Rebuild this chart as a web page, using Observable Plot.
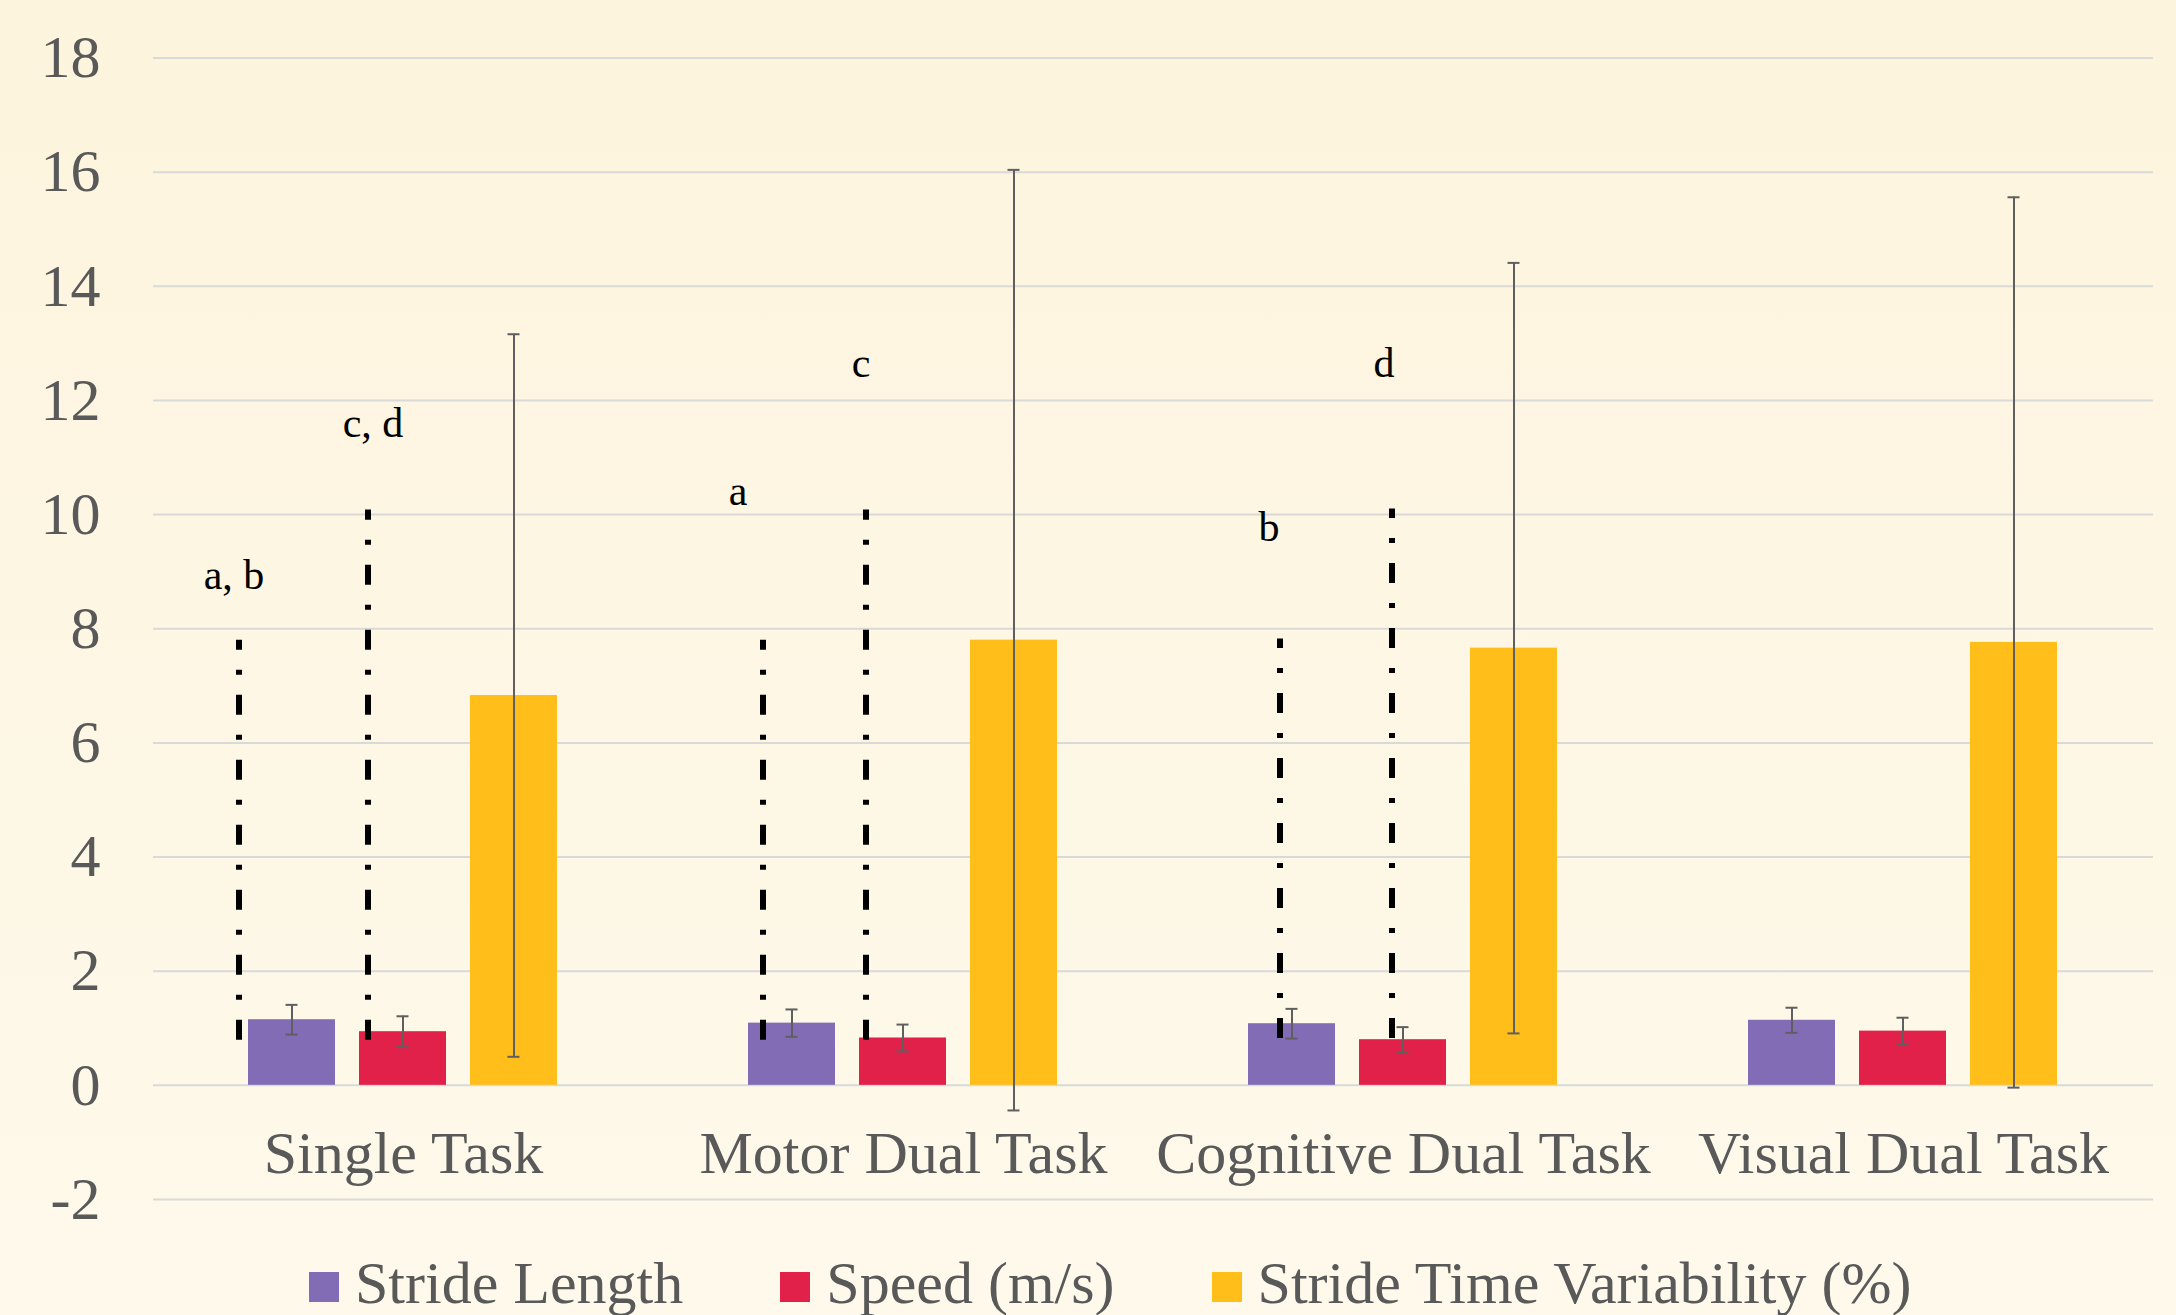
<!DOCTYPE html>
<html>
<head>
<meta charset="utf-8">
<script src="https://cdn.jsdelivr.net/npm/d3@7"></script>
<script src="https://cdn.jsdelivr.net/npm/@observablehq/plot@0.6"></script>
<style>
  html, body { margin: 0; padding: 0; overflow: hidden; }
  body {
    width: 2176px; height: 1315px; position: relative;
    background: linear-gradient(#fdf4dd, #fef9eb);
    font-family: "Liberation Serif", "Times New Roman", serif;
  }
  #chart { position: absolute; left: 0; top: 0; }
  #legend { position: absolute; left: 309px; top: 1253px; display: flex; align-items: flex-start; }
  .item { display: flex; align-items: flex-start; margin-right: 97px; }
  .sw { width: 30px; height: 30px; margin-top: 19px; }
  .lab { margin-left: 16px; font-size: 60px; line-height: 60px; color: #595959; white-space: nowrap; }
</style>
</head>
<body>
<div id="chart"></div>
<div id="legend"></div>
<script>
// ---- data ----
const categories = ["Single Task", "Motor Dual Task", "Cognitive Dual Task", "Visual Dual Task"];
const series = ["Stride Length", "Speed (m/s)", "Stride Time Variability (%)"];
const strideLength = [1.15, 1.09, 1.08, 1.14];
const strideLengthSD = [0.26, 0.24, 0.26, 0.22];
const speed = [0.94, 0.83, 0.80, 0.95];
const speedSD = [0.27, 0.235, 0.22, 0.235];
const strideTimeVar = [6.83, 7.80, 7.66, 7.76];
const strideTimeVarSD = [6.33, 8.24, 6.75, 7.80];
const yTicks = [-2, 0, 2, 4, 6, 8, 10, 12, 14, 16, 18];

// significance annotations
const annoCategory = ["Single Task", "Single Task", "Motor Dual Task", "Motor Dual Task", "Cognitive Dual Task", "Cognitive Dual Task"];
const annoSeries = ["Stride Length", "Speed (m/s)", "Stride Length", "Speed (m/s)", "Stride Length", "Speed (m/s)"];
const annoText = ["a, b", "c, d", "a", "c", "b", "d"];
const annoFrom = [0.79, 0.79, 0.79, 0.79, 0.82, 0.82];
const annoTo = [7.8, 10.08, 7.8, 10.08, 7.82, 10.1];
const annoLabelY = [8.93, 11.6, 10.4, 12.64, 9.77, 12.64];

// ---- layout / style ----
const colors = ["#836CB6", "#E2214A", "#FFBE1A"];
const lineDx = [-53, -35, -29, -37, -12, -11];
const labelDx = [-58, -30, -54, -42, -23, -19];

const values = [strideLength, speed, strideTimeVar];
const sds = [strideLengthSD, speedSD, strideTimeVarSD];
const rows = [];
categories.forEach((c, i) => series.forEach((s, j) => {
  rows.push({category: c, series: s, value: values[j][i], sd: sds[j][i]});
}));
const annos = annoText.map((t, i) => ({category: annoCategory[i], series: annoSeries[i], text: t, from: annoFrom[i], to: annoTo[i], ly: annoLabelY[i]}));

const annoMarks = [];
annos.forEach((a, i) => {
  annoMarks.push(Plot.ruleX([a], {fx: "category", x: "series", y1: "from", y2: "to", dx: lineDx[i], stroke: "black", strokeWidth: 6, strokeDasharray: "20,20,5,20", strokeLinecap: "butt"}));
  annoMarks.push(Plot.text([a], {fx: "category", x: "series", y: "ly", text: "text", dx: labelDx[i], fill: "black", fontSize: 42}));
});

const chart = Plot.plot({
  width: 2176,
  height: 1240,
  marginLeft: 153,
  marginRight: 23,
  marginTop: 57.5,
  marginBottom: 41,
  style: {fontFamily: "Liberation Serif", fontSize: "60px", color: "#595959", background: "transparent", overflow: "visible"},
  fx: {domain: categories, padding: 0},
  x: {domain: series, paddingInner: 0.216, paddingOuter: 0.86, axis: null},
  y: {domain: [-2, 18]},
  color: {domain: series, range: colors},
  marks: [
    Plot.gridY(yTicks, {stroke: "#d9d9d9", strokeOpacity: 1, strokeWidth: 2}),
    Plot.axisY({ticks: yTicks, tickSize: 0, tickPadding: 53, label: null, fontSize: 60, tickFormat: d => String(d)}),
    Plot.axisFx({anchor: "bottom", tickSize: 0, label: null, dy: -78, fontSize: 60}),
    Plot.barY(rows, {fx: "category", x: "series", y: "value", fill: "series"}),
    Plot.ruleX(rows, {fx: "category", x: "series", y1: d => d.value - d.sd, y2: d => d.value + d.sd, stroke: "#5f5f5f", strokeWidth: 2}),
    Plot.tickY(rows, {fx: "category", x: "series", y: d => d.value - d.sd, stroke: "#5f5f5f", strokeWidth: 2, insetLeft: 37.5, insetRight: 37.5}),
    Plot.tickY(rows, {fx: "category", x: "series", y: d => d.value + d.sd, stroke: "#5f5f5f", strokeWidth: 2, insetLeft: 37.5, insetRight: 37.5}),
    ...annoMarks
  ]
});
document.getElementById("chart").appendChild(chart);

const legend = document.getElementById("legend");
series.forEach((s, j) => {
  const item = document.createElement("div");
  item.className = "item";
  const sw = document.createElement("div");
  sw.className = "sw";
  sw.style.background = colors[j];
  const lab = document.createElement("span");
  lab.className = "lab";
  lab.textContent = s;
  item.appendChild(sw);
  item.appendChild(lab);
  legend.appendChild(item);
});
</script>
</body>
</html>
